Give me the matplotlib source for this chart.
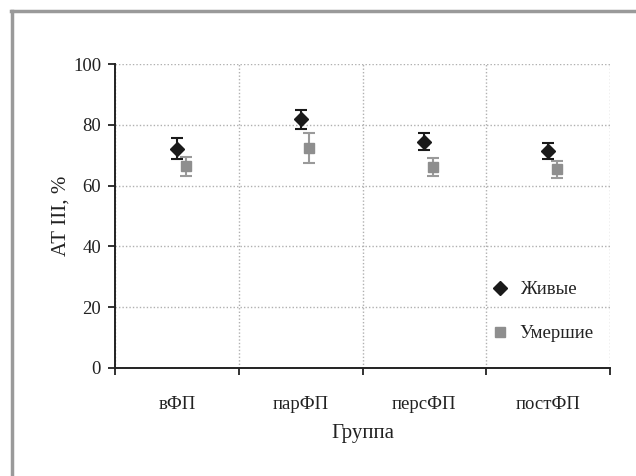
import matplotlib
matplotlib.use("Agg")
import matplotlib.pyplot as plt
from matplotlib.lines import Line2D
import numpy as np

categories = ["вФП", "парФП", "персФП", "постФП"]
alive = [72.2, 81.8, 74.5, 71.4]
alive_err = [3.6, 3.1, 2.8, 2.5]
dead = [66.3, 72.3, 66.0, 65.3]
dead_err = [3.2, 4.9, 3.0, 2.7]
yticks = [0, 20, 40, 60, 80, 100]

plt.rcParams['font.family'] = ['Liberation Serif', 'DejaVu Serif']

fig = plt.figure(figsize=(6.36, 4.76), dpi=100)
ax = fig.add_axes([115/636, 1-368/476, 495/636, 304/476])

x = np.arange(len(categories)) + 0.5
ax.errorbar(x + 0.07, dead, yerr=dead_err, fmt='s', color='#8e8e8e', ecolor='#9a9a9a',
            markersize=6.5, capsize=4, elinewidth=1.5, capthick=1.5, zorder=3)
ax.errorbar(x, alive, yerr=alive_err, fmt='D', color='#1a1a1a', ecolor='#1a1a1a',
            markersize=7.5, capsize=4, elinewidth=1.5, capthick=1.5, zorder=4)

ax.set_xlim(0, len(categories))
ax.set_ylim(0, 100)
ax.set_yticks(yticks)
ax.set_yticklabels([str(v) for v in yticks])
ax.set_xticks(np.arange(len(categories) + 1))
ax.set_xticklabels([])
ax.set_xticks(x, minor=True)
ax.set_xticklabels(categories, minor=True)
ax.tick_params(axis='x', which='minor', length=0, pad=20, labelsize=13.5, colors='#222222')
ax.tick_params(axis='x', which='major', length=5, width=1.3, direction='out', color='#222222')
ax.tick_params(axis='y', which='major', length=5, width=1.3, direction='out', labelsize=13.5,
               colors='#222222', pad=5)

ax.grid(True, which='major', color='#b0b0b0', linestyle=(0, (1, 1.5)), linewidth=1.0)
ax.set_axisbelow(True)
for s in ['top', 'right']:
    ax.spines[s].set_visible(False)
for s in ['left', 'bottom']:
    ax.spines[s].set_linewidth(1.4)
    ax.spines[s].set_color('#222222')

ax.set_xlabel("Группа", fontsize=15, color='#222222', labelpad=8)
ax.set_ylabel("АТ III, %", fontsize=15, color='#222222', labelpad=2)

handles = [Line2D([], [], marker='D', linestyle='none', color='#1a1a1a', markersize=7),
           Line2D([], [], marker='s', linestyle='none', color='#8e8e8e', markersize=6.5)]
ax.legend(handles, ["Живые", "Умершие"], loc='center left', bbox_to_anchor=(0.725, 0.185),
          frameon=False, fontsize=13.5, labelspacing=1.45, handlelength=1.0, handletextpad=0.55,
          labelcolor='#222222')

fig.add_artist(Line2D([11/636, 1.0], [1-10.5/476, 1-10.5/476], transform=fig.transFigure,
                      color='#9a9a9a', linewidth=2.5))
fig.add_artist(Line2D([12/636, 12/636], [0, 1-10.5/476], transform=fig.transFigure,
                      color='#9a9a9a', linewidth=2.5))

fig.savefig("out.png", dpi=100)
